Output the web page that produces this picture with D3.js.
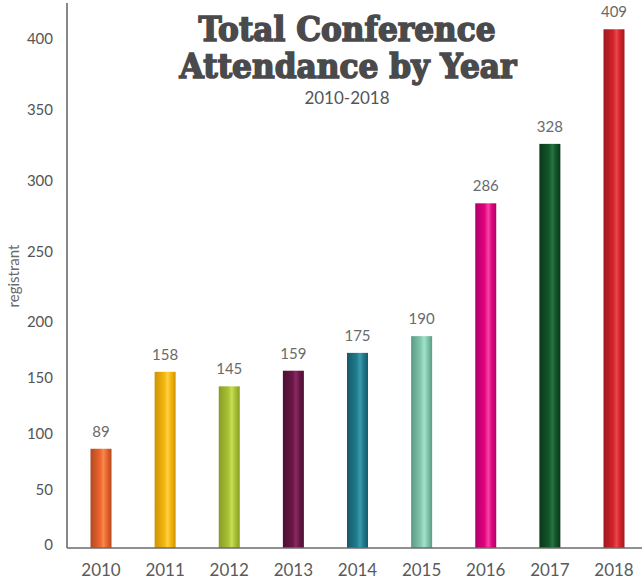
<!DOCTYPE html>
<html>
<head>
<meta charset="utf-8">
<script src="https://cdn.jsdelivr.net/npm/d3@7"></script>
<style>
  body { margin: 0; background: #fff; }
  svg { display: block; }
</style>
</head>
<body>
<div id="chart"></div>
<script>
var years = ["2010", "2011", "2012", "2013", "2014", "2015", "2016", "2017", "2018"];
var attendance = [89, 158, 145, 159, 175, 190, 286, 328, 409];
var yTicks = [0, 50, 100, 150, 200, 250, 300, 350, 400];
// base colour, dark edge, highlight
var barBase = ["#ec642c", "#f3b50a", "#a8c232", "#6a1646", "#1f7b8d", "#80c8ad", "#e3037f", "#13562a", "#d3222a"];
var barDark = ["#b24a22", "#cf9308", "#879c27", "#4c0f33", "#165968", "#5c9a84", "#b0006a", "#0a381a", "#9e1a20"];
var barLight = ["#f6894f", "#ffd046", "#c8dd5c", "#8a2a62", "#3a9bad", "#a6e2cb", "#f548a3", "#26753f", "#e9474d"];

var W = 642, H = 582;
var axisX = 67, baseY = 548;
var font = "Lato, 'Noto Sans', sans-serif";

var svg = d3.select("#chart").append("svg")
    .attr("width", W)
    .attr("height", H);

var x = d3.scalePoint()
    .domain(years)
    .range([101, 614]);

// the source chart is drawn with a steeper scale above 200
var y = d3.scaleLinear()
    .domain([0, 200, 400])
    .range([baseY, 325, 42]);

var barW = 21;

var defs = svg.append("defs");
years.forEach(function (yr, i) {
    var g = defs.append("linearGradient")
        .attr("id", "grad" + i)
        .attr("x1", "0%").attr("x2", "100%")
        .attr("y1", "0%").attr("y2", "0%");
    g.append("stop").attr("offset", "0%").attr("stop-color", barDark[i]);
    g.append("stop").attr("offset", "45%").attr("stop-color", barBase[i]);
    g.append("stop").attr("offset", "62%").attr("stop-color", barLight[i]);
    g.append("stop").attr("offset", "78%").attr("stop-color", barBase[i]);
    g.append("stop").attr("offset", "100%").attr("stop-color", barDark[i]);
});

// bars
svg.selectAll(".bar")
    .data(attendance)
    .enter().append("rect")
    .attr("class", "bar")
    .attr("x", function (d, i) { return x(years[i]) - barW / 2; })
    .attr("y", function (d) { return y(d); })
    .attr("width", barW)
    .attr("height", function (d) { return baseY - y(d); })
    .attr("fill", function (d, i) { return "url(#grad" + i + ")"; });

// value labels
svg.selectAll(".val")
    .data(attendance)
    .enter().append("text")
    .attr("class", "val")
    .attr("x", function (d, i) { return x(years[i]); })
    .attr("y", function (d) { return y(d) - 12; })
    .attr("text-anchor", "middle")
    .style("font-family", font)
    .style("font-size", "15px")
    .style("fill", "#6a6a6a")
    .text(function (d) { return d; });

// axis lines
svg.append("line")
    .attr("x1", axisX).attr("x2", axisX)
    .attr("y1", 3).attr("y2", baseY)
    .attr("stroke", "#6b6b6b").attr("stroke-width", 1.6);
svg.append("line")
    .attr("x1", axisX).attr("x2", W)
    .attr("y1", baseY).attr("y2", baseY)
    .attr("stroke", "#6b6b6b").attr("stroke-width", 1.6);

// y tick labels
svg.selectAll(".ytick")
    .data(yTicks)
    .enter().append("text")
    .attr("class", "ytick")
    .attr("x", 53)
    .attr("y", function (d) { return y(d) - 3; })
    .attr("dy", "0.35em")
    .attr("text-anchor", "end")
    .style("font-family", font)
    .style("font-size", "15px")
    .style("fill", "#555")
    .text(function (d) { return d; });

// x labels
svg.selectAll(".xtick")
    .data(years)
    .enter().append("text")
    .attr("class", "xtick")
    .attr("x", function (d) { return x(d); })
    .attr("y", 576)
    .attr("text-anchor", "middle")
    .style("font-family", font)
    .style("font-size", "17px")
    .style("fill", "#5a5a5a")
    .text(function (d) { return d; });

// y axis title
svg.append("text")
    .attr("transform", "translate(19,276) rotate(-90)")
    .attr("text-anchor", "middle")
    .style("font-family", font)
    .style("font-size", "15px")
    .style("fill", "#6a6a6a")
    .text("registrant");

// title
var titleFont = "'DejaVu Serif', 'Liberation Serif', serif";
svg.append("text")
    .attr("x", 347).attr("y", 41)
    .attr("text-anchor", "middle")
    .attr("textLength", 297)
    .attr("lengthAdjust", "spacingAndGlyphs")
    .style("font-family", titleFont)
    .style("font-weight", "bold")
    .style("font-size", "33px")
    .style("fill", "#4a4a4c")
    .style("stroke", "#4a4a4c")
    .style("stroke-width", 1.6)
    .text("Total Conference");
svg.append("text")
    .attr("x", 348).attr("y", 78)
    .attr("text-anchor", "middle")
    .attr("textLength", 337)
    .attr("lengthAdjust", "spacingAndGlyphs")
    .style("font-family", titleFont)
    .style("font-weight", "bold")
    .style("font-size", "33px")
    .style("fill", "#4a4a4c")
    .style("stroke", "#4a4a4c")
    .style("stroke-width", 1.6)
    .text("Attendance by Year");
svg.append("text")
    .attr("x", 347).attr("y", 104)
    .attr("text-anchor", "middle")
    .style("font-family", font)
    .style("font-size", "17px")
    .style("fill", "#555")
    .text("2010-2018");
</script>
</body>
</html>
